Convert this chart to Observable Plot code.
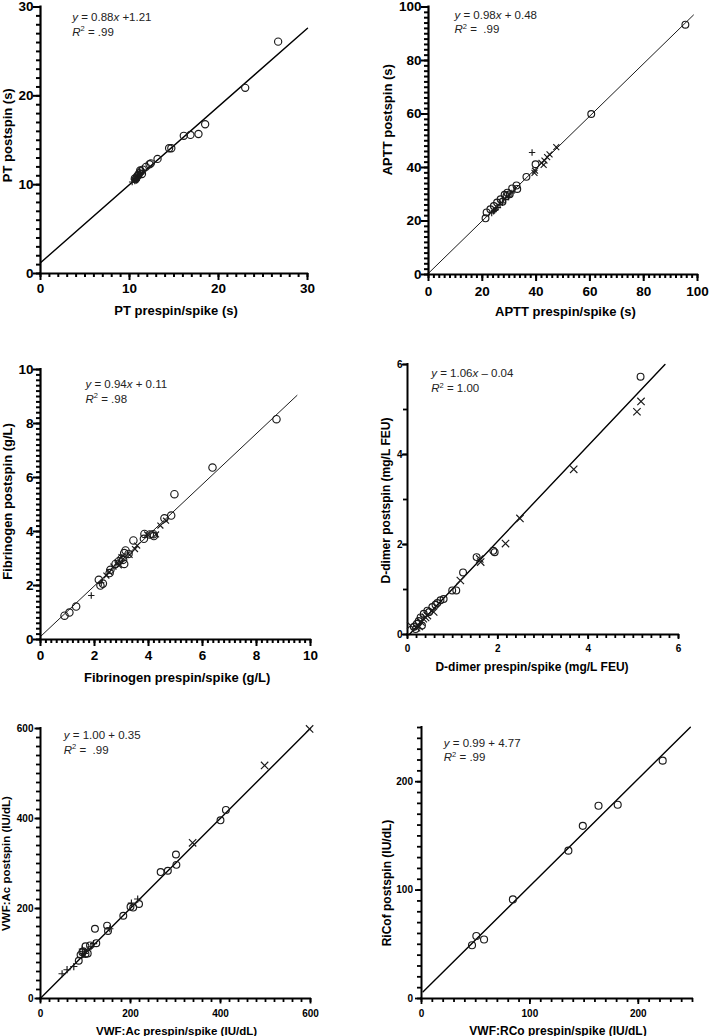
<!DOCTYPE html>
<html>
<head>
<meta charset="utf-8">
<script src="https://cdn.jsdelivr.net/npm/d3@7"></script>
<script src="https://cdn.jsdelivr.net/npm/@observablehq/plot@0.6"></script>
<style>
  html, body { margin: 0; padding: 0; background: #fff; }
  #wrap { position: relative; width: 709px; height: 1036px; overflow: hidden; background: #fff; }
  #wrap > svg { position: absolute; overflow: visible; }
</style>
</head>
<body>
<div id="wrap"></div>
<script>
// ================= DATA =================
// Panel A: PT (s)
const ptCirclePre  = [26.7, 23.0, 18.5, 17.75, 16.85, 16.1, 14.7, 14.45, 13.15, 12.4, 12.25, 11.85, 11.5, 11.3, 11.1, 11.0, 10.9, 10.8, 10.7, 11.2, 11.4, 10.6];
const ptCirclePost = [26.1, 20.9, 16.8, 15.7, 15.6, 15.5, 14.1, 14.1, 12.9, 12.4, 12.3, 12.0, 11.7, 11.5, 11.3, 11.1, 11.0, 10.8, 10.6, 11.6, 11.2, 10.7];
const ptPlusPre    = [10.3, 10.6, 10.8, 10.9, 11.0, 11.1, 11.2, 11.3, 10.7, 11.5, 10.5, 11.0];
const ptPlusPost   = [10.3, 10.4, 10.5, 10.9, 10.8, 11.0, 11.3, 11.2, 10.7, 11.6, 10.6, 11.2];
const ptFitX = [0, 30];
const ptFitY = [1.21, 27.61];
const ptTicks = [0, 10, 20, 30];

// Panel B: APTT (s)
const apttCirclePre  = [95.5, 60.5, 39.8, 36.4, 32.7, 31.1, 29.3, 29.0, 28.3, 26.8, 25.5, 24.3, 23.0, 21.6, 21.2, 27.5, 30.2, 33.0];
const apttCirclePost = [93.4, 60.0, 41.2, 36.5, 33.3, 32.2, 30.6, 29.4, 29.8, 28.1, 26.9, 25.6, 24.4, 23.2, 21.0, 27.2, 30.0, 32.0];
const apttPlusPre    = [38.5, 23.5, 24.2, 25.0, 25.8, 26.6, 27.5, 28.6, 29.8, 31.0, 24.6];
const apttPlusPost   = [45.6, 23.0, 23.6, 24.4, 25.0, 26.2, 26.8, 28.0, 29.0, 30.5, 24.0];
const apttTimesPre   = [47.5, 45.0, 43.1, 42.8, 39.4, 39.6, 42.0, 44.1];
const apttTimesPost  = [47.6, 44.9, 42.6, 41.0, 38.0, 38.8, 41.7, 43.9];
const apttFitX = [0, 98.5];
const apttFitY = [0.48, 97.0];
const apttTicks = [0, 20, 40, 60, 80, 100];

// Panel C: Fibrinogen (g/L)
const fibCirclePre  = [8.74, 6.37, 4.96, 4.84, 4.59, 3.85, 3.83, 4.05, 4.2, 3.44, 3.15, 3.1, 3.06, 3.1, 2.9, 2.78, 3.26, 2.59, 2.56, 2.16, 2.22, 2.31, 1.32, 1.07, 0.89, 3.0, 4.18];
const fibCirclePost = [8.16, 6.37, 5.38, 4.59, 4.49, 3.91, 3.73, 3.89, 3.83, 3.67, 3.30, 3.2, 2.95, 2.80, 2.9, 2.8, 3.17, 2.58, 2.46, 2.21, 2.0, 2.07, 1.22, 1.0, 0.88, 3.0, 3.9];
const fibPlusPre    = [1.88, 2.25];
const fibPlusPost   = [1.63, 2.1];
const fibTimesPre   = [2.44, 2.7, 2.85, 3.3, 3.58, 3.95, 4.28, 4.44, 4.65, 2.55, 2.9, 3.5, 3.0];
const fibTimesPost  = [2.37, 2.7, 2.85, 3.13, 3.48, 3.89, 3.89, 4.22, 4.4, 2.5, 2.75, 3.35, 3.05];
const fibFitX = [0, 9.5];
const fibFitY = [0.11, 9.04];
const fibTicks = [0, 2, 4, 6, 8, 10];

// Panel D: D-dimer (mg/L FEU)
const ddCirclePre  = [5.16, 1.93, 1.9, 1.53, 1.23, 1.08, 0.99, 0.80, 0.73, 0.66, 0.55, 0.44, 0.36, 0.29, 0.21, 0.14, 0.25, 0.32, 0.48, 0.62, 0.18];
const ddCirclePost = [5.73, 1.83, 1.86, 1.72, 1.38, 0.98, 0.98, 0.79, 0.76, 0.70, 0.61, 0.53, 0.46, 0.38, 0.24, 0.17, 0.30, 0.20, 0.50, 0.66, 0.12];
const ddTimesPre   = [5.17, 5.08, 3.68, 2.49, 2.17, 1.62, 1.60, 1.17, 0.58, 0.44, 0.07, 0.26, 0.30, 0.35, 0.20, 0.40];
const ddTimesPost  = [5.18, 4.95, 3.67, 2.58, 2.02, 1.61, 1.68, 1.20, 0.50, 0.42, 0.20, 0.18, 0.28, 0.35, 0.15, 0.38];
const ddFitX = [0.04, 5.7];
const ddFitY = [0.0, 6.0];
const ddTicks = [0, 2, 4, 6];

// Panel E: VWF:Ac (IU/dL)
const acCirclePre  = [412, 400, 301, 302, 283, 267, 219, 200, 206, 184, 148, 150, 121, 124, 100, 110, 93, 100, 89, 85, 95, 105];
const acCirclePost = [419, 396, 320, 297, 284, 281, 210, 204, 202, 184, 162, 150, 155, 123, 116, 118, 103, 99, 97, 84, 105, 100];
const acPlusPre    = [216, 202, 154, 112, 93, 74, 59, 48, 118, 98];
const acPlusPost   = [221, 212, 155, 115, 110, 71, 64, 55, 122, 100];
const acTimesPre   = [598, 498, 338];
const acTimesPost  = [599, 518, 346];
const acFitX = [0, 600];
const acFitY = [0.35, 600.35];
const acTicks = [0, 200, 400, 600];

// Panel F: VWF:RCo (IU/dL)
const rcoPre  = [222.5, 181, 163.3, 148.8, 135.5, 84.3, 57.7, 50.6, 46.6];
const rcoPost = [219.4, 178.7, 177.8, 159.3, 136.4, 91.4, 54.4, 57.7, 49.1];
const rcoFitX = [1.5, 248];
const rcoFitY = [6.26, 250.3];
const rcoTicks = [0, 100, 200];

// ================= RENDER =================
const FONT = "'Liberation Sans', Arial, Helvetica, sans-serif";
const INK = "#000";

const plusSym = {draw(ctx, size) { const r = Math.sqrt(size / Math.PI); ctx.moveTo(-r, 0); ctx.lineTo(r, 0); ctx.moveTo(0, -r); ctx.lineTo(0, r); }};
const timesSym = {draw(ctx, size) { const r = Math.sqrt(size / Math.PI) * Math.SQRT1_2; ctx.moveTo(-r, -r); ctx.lineTo(r, r); ctx.moveTo(-r, r); ctx.lineTo(r, -r); }};

const pts = (xs, ys) => xs.map((x, i) => ({x, y: ys[i]}));

function panel(p) {
  const marks = [
    Plot.axisX(p.minorX, {tickSize: p.minorSize, stroke: INK, strokeWidth: p.tickW, tickFormat: () => "", label: null}),
    Plot.axisY(p.minorY, {tickSize: p.minorSize, stroke: INK, strokeWidth: p.tickW, tickFormat: () => "", label: null}),
    Plot.axisX(p.ticks, {tickSize: p.majorSize, tickPadding: p.padX, stroke: INK, strokeWidth: p.tickW, fill: INK, fontSize: p.tickFont, fontWeight: "bold", tickFormat: d => String(d), label: null}),
    Plot.axisY(p.ticks, {tickSize: p.majorSize, tickPadding: p.padY, stroke: INK, strokeWidth: p.tickW, fill: INK, fontSize: p.tickFont, fontWeight: "bold", tickFormat: d => String(d), label: null}),
    Plot.ruleX([p.domain[0]], {stroke: INK, strokeWidth: p.axisW, strokeLinecap: "square"}),
    Plot.ruleY([p.domain[0]], {stroke: INK, strokeWidth: p.axisW, strokeLinecap: "square"}),
    Plot.line(pts(p.fitX, p.fitY), {x: "x", y: "y", stroke: INK, strokeWidth: p.fitW}),
    Plot.dot(pts(p.cPre, p.cPost), {x: "x", y: "y", r: p.cr, stroke: "#1a1a1a", strokeWidth: 1.15, fill: "none"})
  ];
  if (p.pPre) marks.push(Plot.dot(pts(p.pPre, p.pPost), {x: "x", y: "y", r: p.pr, symbol: plusSym, stroke: "#1a1a1a", strokeWidth: 1.15, fill: "none"}));
  if (p.tPre) marks.push(Plot.dot(pts(p.tPre, p.tPost), {x: "x", y: "y", r: p.tr, symbol: timesSym, stroke: "#1a1a1a", strokeWidth: 1.15, fill: "none"}));
  marks.push(
    Plot.text([p.eq], {text: d => d, frameAnchor: "top-left", dx: p.eqDx, dy: p.eqDy, lineAnchor: "bottom", textAnchor: "start", fontSize: 11.5, fill: "#222"}),
    Plot.text([p.r2], {text: d => d, frameAnchor: "top-left", dx: p.eqDx, dy: p.eqDy + p.eqGap, lineAnchor: "bottom", textAnchor: "start", fontSize: 11.5, fill: "#222"}),
    Plot.text([p.xLabel], {text: d => d, frameAnchor: "bottom", dx: p.xlDx, dy: p.xlDy, lineAnchor: "bottom", textAnchor: "middle", fontSize: p.labFont, fontWeight: "bold", fill: INK}),
    Plot.text([p.yLabel], {text: d => d, frameAnchor: "left", rotate: -90, dx: p.ylDx, dy: p.ylDy, lineAnchor: "bottom", textAnchor: "middle", fontSize: p.labFont, fontWeight: "bold", fill: INK})
  );
  const svg = Plot.plot({
    width: p.w, height: p.h,
    marginLeft: p.m[3], marginTop: p.m[0], marginRight: p.m[1], marginBottom: p.m[2],
    x: {domain: p.domain, label: null},
    y: {domain: p.domain, label: null},
    style: {fontFamily: FONT, color: INK, background: "transparent", overflow: "visible"},
    marks
  });
  svg.style.left = p.left + "px";
  svg.style.top = p.top + "px";
  // rich text: italic variables and superscript 2
  svg.querySelectorAll("text").forEach(t => {
    const s = t.textContent;
    if (s.startsWith("y = ")) {
      t.textContent = "";
      s.split(/([xy])/).forEach(part => {
        if (!part) return;
        const ts = document.createElementNS("http://www.w3.org/2000/svg", "tspan");
        ts.textContent = part;
        if (part === "x" || part === "y") ts.setAttribute("font-style", "italic");
        t.appendChild(ts);
      });
    } else if (s.startsWith("R²")) {
      t.textContent = "";
      const a = document.createElementNS("http://www.w3.org/2000/svg", "tspan");
      a.textContent = "R"; a.setAttribute("font-style", "italic");
      const b = document.createElementNS("http://www.w3.org/2000/svg", "tspan");
      b.textContent = "2"; b.setAttribute("font-size", "7.5"); b.setAttribute("dy", "-4.5");
      const c = document.createElementNS("http://www.w3.org/2000/svg", "tspan");
      c.textContent = s.slice(2); c.setAttribute("dy", "4.5");
      t.append(a, b, c);
    }
  });
  document.getElementById("wrap").appendChild(svg);
}

const big = {tickFont: 13.5, labFont: 13, axisW: 2.2, tickW: 2, minorSize: 4, majorSize: 7};
const small = {tickFont: 10, labFont: 11.5, axisW: 2, tickW: 1.8, minorSize: 4, majorSize: 5.5};

panel({...big, left: 0, top: 0, w: 354, h: 320, m: [6.5, 47, 47, 40], domain: [0, 30],
  ticks: ptTicks, minorX: d3.range(0, 30.01, 1), minorY: d3.range(0, 30.01, 1), padX: 3, padY: 0,
  cPre: ptCirclePre, cPost: ptCirclePost, cr: 3.6, pPre: ptPlusPre, pPost: ptPlusPost, pr: 3.2,
  fitX: ptFitX, fitY: ptFitY, fitW: 1.4,
  eq: "y = 0.88x +1.21", r2: "R² = .99", eqDx: 31.7, eqDy: 14.2, eqGap: 14.5,
  xLabel: "PT prespin/spike (s)", xlDx: 2, xlDy: 41,
  yLabel: "PT postspin (s)", ylDx: -28.5, ylDy: -5});

panel({...big, left: 354, top: 0, w: 355, h: 320, m: [6.5, 12, 46, 74], domain: [0, 100],
  ticks: apttTicks, minorX: d3.range(0, 100.01, 2), minorY: d3.range(0, 100.01, 2), padX: 5, padY: 0,
  cPre: apttCirclePre, cPost: apttCirclePost, cr: 3.4, pPre: apttPlusPre, pPost: apttPlusPost, pr: 3.2,
  tPre: apttTimesPre, tPost: apttTimesPost, tr: 4.2,
  fitX: apttFitX, fitY: apttFitY, fitW: 0.9,
  eq: "y = 0.98x + 0.48", r2: "R² =  .99", eqDx: 26, eqDy: 11.8, eqGap: 14.5,
  xLabel: "APTT prespin/spike (s)", xlDx: 2.5, xlDy: 41.3,
  yLabel: "APTT postspin (s)", ylDx: -36.5, ylDy: -21});

panel({...big, left: 0, top: 340, w: 354, h: 345, m: [29, 44, 46, 40], domain: [0, 10],
  ticks: fibTicks, minorX: d3.range(0, 10.001, 0.2), minorY: d3.range(0, 10.001, 0.2), padX: 4, padY: 0,
  cPre: fibCirclePre, cPost: fibCirclePost, cr: 3.7, pPre: fibPlusPre, pPost: fibPlusPost, pr: 3.2,
  tPre: fibTimesPre, tPost: fibTimesPost, tr: 4.2,
  fitX: fibFitX, fitY: fibFitY, fitW: 0.9,
  eq: "y = 0.94x + 0.11", r2: "R² = .98", eqDx: 45, eqDy: 18.3, eqGap: 15,
  xLabel: "Fibrinogen prespin/spike (g/L)", xlDx: 1.7, xlDy: 42,
  yLabel: "Fibrinogen postspin (g/L)", ylDx: -28.7, ylDy: -3});

panel({...small, labFont: 12, left: 354, top: 340, w: 355, h: 345, m: [24, 31, 51, 53], domain: [0, 6],
  ticks: ddTicks, minorX: d3.range(0, 6.001, 0.2), minorY: d3.range(0, 6.001, 1), padX: 5.5, padY: 0, majorSize: 5,
  cPre: ddCirclePre, cPost: ddCirclePost, cr: 3.4,
  tPre: ddTimesPre, tPost: ddTimesPost, tr: 5.2,
  fitX: ddFitX, fitY: ddFitY, fitW: 1.4,
  eq: "y = 1.06x \u2013 0.04", r2: "R² = 1.00", eqDx: 23.7, eqDy: 12, eqGap: 15.5,
  xLabel: "D-dimer prespin/spike (mg/L FEU)", xlDx: -11, xlDy: 36,
  yLabel: "D-dimer postspin (mg/L FEU)", ylDx: -17.7, ylDy: 1});

panel({...small, left: 0, top: 690, w: 354, h: 346, m: [38, 44, 38, 40], domain: [0, 600],
  ticks: acTicks, minorX: d3.range(0, 600.01, 20), minorY: d3.range(0, 600.01, 20), padX: 5.5, padY: 1.5,
  cPre: acCirclePre, cPost: acCirclePost, cr: 3.4, pPre: acPlusPre, pPost: acPlusPost, pr: 3.6,
  tPre: acTimesPre, tPost: acTimesPost, tr: 5.2,
  fitX: acFitX, fitY: acFitY, fitW: 1.4,
  eq: "y = 1.00 + 0.35", r2: "R² =  .99", eqDx: 23.3, eqDy: 10.3, eqGap: 15,
  xLabel: "VWF:Ac prespin/spike (IU/dL)", xlDx: 1, xlDy: 36,
  yLabel: "VWF:Ac postspin (IU/dL)", ylDx: -30.5, ylDy: 0});

panel({...small, labFont: 12, left: 354, top: 690, w: 355, h: 346, m: [37, 17, 38, 67], domain: [0, 250],
  ticks: rcoTicks, minorX: d3.range(0, 250.01, 10), minorY: d3.range(0, 250.01, 10), padX: 5.5, padY: 2.5, majorSize: 6,
  cPre: rcoPre, cPost: rcoPost, cr: 3.5,
  fitX: rcoFitX, fitY: rcoFitY, fitW: 1.4,
  eq: "y = 0.99 + 4.77", r2: "R² = .99", eqDx: 22.3, eqDy: 19, eqGap: 14.7,
  xLabel: "VWF:RCo prespin/spike (IU/dL)", xlDx: 1, xlDy: 36,
  yLabel: "RiCof postspin (IU/dL)", ylDx: -30.2, ylDy: 20});
</script>
</body>
</html>
